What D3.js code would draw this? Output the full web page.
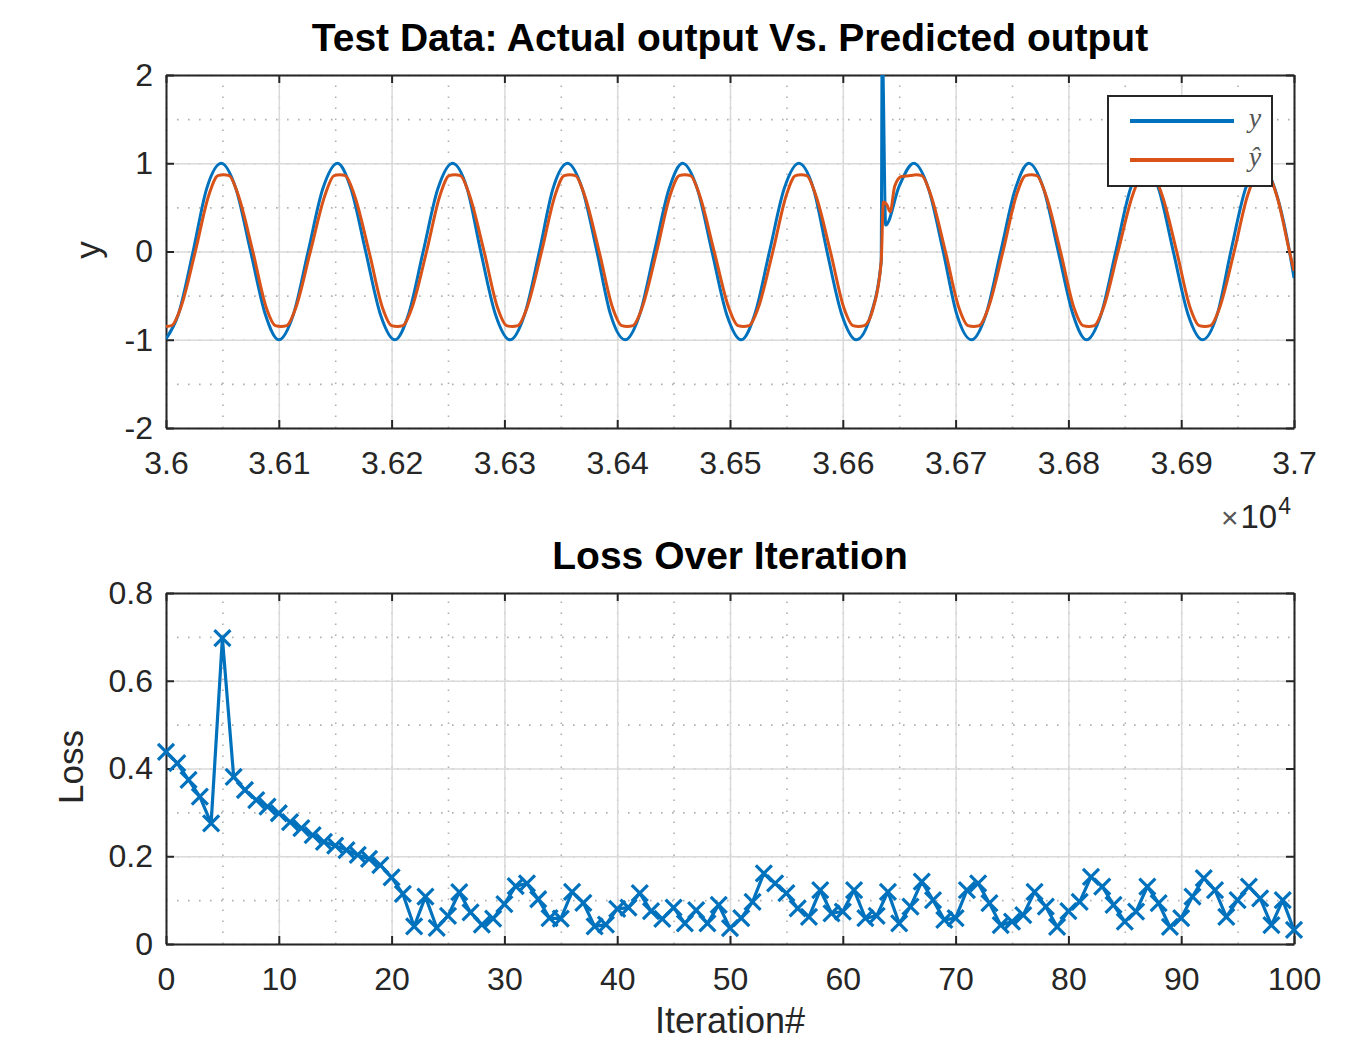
<!DOCTYPE html>
<html>
<head>
<meta charset="utf-8">
<script src="https://cdn.jsdelivr.net/npm/d3@7"></script>
<style>
  body { margin: 0; background: #fff; }
  svg { font-family: "Liberation Sans", Arial, Helvetica, sans-serif; }
  .tick text { fill: #262626; }
</style>
</head>
<body>
<div id="chart"></div>
<script>
// Test data, actual output y (sample index, value)
var actualT = [36000, 36011, 36024, 36036, 36049, 36062, 36075, 36088, 36100, 36113, 36126, 36139, 36152, 36164, 36177, 36190,
  36203, 36215, 36228, 36241, 36254, 36267, 36279, 36292, 36305, 36318, 36331, 36343, 36356, 36369, 36382, 36394,
  36407, 36420, 36433, 36446, 36458, 36471, 36484, 36497, 36510, 36522, 36535, 36548, 36561, 36574, 36586, 36599,
  36612, 36625, 36634, 36635, 36636, 36638, 36650, 36663, 36676, 36689, 36701, 36714, 36727, 36740, 36753, 36765,
  36778, 36791, 36804, 36816, 36829, 36842, 36855, 36868, 36880, 36893, 36906, 36919, 36932, 36944, 36957, 36970,
  36983, 36996, 37000];
var actualY = [-0.99, -0.71, 0, 0.71, 1, 0.71, 0, -0.71, -1, -0.71, 0, 0.71, 1, 0.71, 0, -0.71,
  -1, -0.71, 0, 0.71, 1, 0.71, 0, -0.71, -1, -0.71, 0, 0.71, 1, 0.71, 0, -0.71,
  -1, -0.71, 0, 0.71, 1, 0.71, 0, -0.71, -1, -0.71, 0, 0.71, 1, 0.71, 0, -0.71,
  -1, -0.71, -0.12, 2.6, 1.8, 0.3, 0.74, 1, 0.71, 0, -0.71, -1, -0.71, 0, 0.71, 1,
  0.71, 0, -0.71, -1, -0.71, 0, 0.71, 1, 0.71, 0, -0.71, -1, -0.71, 0, 0.71, 1,
  0.71, 0, -0.3];

// predicted output y-hat
var predT = [36000, 36005, 36013, 36026, 36038, 36046, 36051, 36056, 36064, 36077, 36089, 36097,
  36102, 36107, 36115, 36128, 36141, 36149, 36154, 36159, 36167, 36180, 36192, 36200,
  36205, 36210, 36218, 36231, 36243, 36251, 36256, 36261, 36269, 36282, 36294, 36302,
  36307, 36312, 36320, 36333, 36345, 36353, 36358, 36363, 36371, 36384, 36396, 36404,
  36409, 36414, 36422, 36435, 36447, 36455, 36460, 36465, 36473, 36486, 36499, 36507,
  36512, 36517, 36525, 36538, 36550, 36558, 36563, 36568, 36576, 36589, 36601, 36609,
  36614, 36619, 36627, 36634, 36636, 36639, 36642, 36646, 36652, 36660, 36665, 36670, 36678, 36691, 36703, 36711,
  36716, 36721, 36729, 36742, 36754, 36762, 36767, 36772, 36780, 36793, 36805, 36813,
  36818, 36823, 36831, 36844, 36857, 36865, 36870, 36875, 36883, 36896, 36908, 36916,
  36921, 36926, 36934, 36947, 36959, 36967, 36972, 36977, 36985, 36996, 37000];
var predY = [-0.85, -0.84, -0.64, 0, 0.64, 0.86, 0.87, 0.86, 0.64, 0, -0.64, -0.84,
  -0.85, -0.84, -0.64, 0, 0.64, 0.86, 0.87, 0.86, 0.64, 0, -0.64, -0.84,
  -0.85, -0.84, -0.64, 0, 0.64, 0.86, 0.87, 0.86, 0.64, 0, -0.64, -0.84,
  -0.85, -0.84, -0.64, 0, 0.64, 0.86, 0.87, 0.86, 0.64, 0, -0.64, -0.84,
  -0.85, -0.84, -0.64, 0, 0.64, 0.86, 0.87, 0.86, 0.64, 0, -0.64, -0.84,
  -0.85, -0.84, -0.64, 0, 0.64, 0.86, 0.87, 0.86, 0.64, 0, -0.64, -0.84,
  -0.85, -0.84, -0.64, -0.12, 0.56, 0.53, 0.45, 0.74, 0.85, 0.86, 0.87, 0.86, 0.64, 0, -0.64, -0.84,
  -0.85, -0.84, -0.64, 0, 0.64, 0.86, 0.87, 0.86, 0.64, 0, -0.64, -0.84,
  -0.85, -0.84, -0.64, 0, 0.64, 0.86, 0.87, 0.86, 0.64, 0, -0.64, -0.84,
  -0.85, -0.84, -0.64, 0, 0.64, 0.86, 0.87, 0.86, 0.62, 0, -0.22];

// loss per iteration (0..100)
var lossValues = [0.438, 0.412, 0.374, 0.336, 0.275, 0.697, 0.381, 0.351, 0.328, 0.313,
  0.298, 0.278, 0.264, 0.248, 0.233, 0.224, 0.214, 0.203, 0.194, 0.180,
  0.152, 0.114, 0.040, 0.108, 0.037, 0.064, 0.118, 0.072, 0.044, 0.058,
  0.091, 0.132, 0.138, 0.102, 0.059, 0.058, 0.119, 0.094, 0.040, 0.044,
  0.080, 0.083, 0.116, 0.075, 0.057, 0.083, 0.047, 0.077, 0.047, 0.089,
  0.036, 0.059, 0.096, 0.161, 0.138, 0.116, 0.081, 0.062, 0.123, 0.070,
  0.074, 0.123, 0.059, 0.064, 0.119, 0.047, 0.085, 0.142, 0.100, 0.055,
  0.059, 0.123, 0.138, 0.093, 0.043, 0.051, 0.066, 0.119, 0.085, 0.039,
  0.075, 0.096, 0.153, 0.131, 0.089, 0.051, 0.074, 0.131, 0.093, 0.039,
  0.059, 0.108, 0.150, 0.123, 0.062, 0.100, 0.131, 0.104, 0.043, 0.100,
  0.032];

var topXTicks = [3.6, 3.61, 3.62, 3.63, 3.64, 3.65, 3.66, 3.67, 3.68, 3.69, 3.7];
var topYTicks = [-2, -1, 0, 1, 2];
var lossXTicks = [0, 10, 20, 30, 40, 50, 60, 70, 80, 90, 100];
var lossYTicks = [0, 0.2, 0.4, 0.6, 0.8];

var blue = "#0072BD";
var orange = "#D95319";
var axisColor = "#262626";

var svgWidth = 1355;
var svgHeight = 1041;
var left = 166, right = 1294;

var svg = d3.select("#chart")
  .append("svg")
  .attr("width", svgWidth)
  .attr("height", svgHeight);

// draws grid, box, ticks of one axes and returns the group
function makeAxes(x, y, xTicks, yTicks, xMinor, yMinor, xFormat, yFormat) {
  var top = y.range()[1], bottom = y.range()[0];
  var h = bottom - top, w = right - left;
  var g = svg.append("g");

  // minor grid (dotted)
  g.append("g")
    .attr("transform", `translate(0,${bottom})`)
    .call(d3.axisBottom(x).tickValues(xMinor).tickSize(-h).tickFormat(""))
    .call(s => s.select(".domain").remove())
    .selectAll("line").attr("stroke", "#b0b0b0").attr("stroke-width", 1.6).attr("stroke-dasharray", "1.6,9.4");
  g.append("g")
    .attr("transform", `translate(${left},0)`)
    .call(d3.axisLeft(y).tickValues(yMinor).tickSize(-w).tickFormat(""))
    .call(s => s.select(".domain").remove())
    .selectAll("line").attr("stroke", "#b0b0b0").attr("stroke-width", 1.6).attr("stroke-dasharray", "1.6,9.4");

  // major grid
  g.append("g")
    .attr("transform", `translate(0,${bottom})`)
    .call(d3.axisBottom(x).tickValues(xTicks).tickSize(-h).tickFormat(""))
    .call(s => s.select(".domain").remove())
    .selectAll("line").attr("stroke", "#dadada").attr("stroke-width", 1.5);
  g.append("g")
    .attr("transform", `translate(${left},0)`)
    .call(d3.axisLeft(y).tickValues(yTicks).tickSize(-w).tickFormat(""))
    .call(s => s.select(".domain").remove())
    .selectAll("line").attr("stroke", "#dadada").attr("stroke-width", 1.5);

  // axes with inward ticks, all four sides
  var xb = g.append("g").attr("class", "xaxis")
    .attr("transform", `translate(0,${bottom})`)
    .call(d3.axisBottom(x).tickValues(xTicks).tickSize(-8).tickSizeOuter(0).tickPadding(23).tickFormat(xFormat));
  var xt = g.append("g")
    .attr("transform", `translate(0,${top})`)
    .call(d3.axisTop(x).tickValues(xTicks).tickSize(-8).tickSizeOuter(0).tickFormat(""));
  var yl = g.append("g")
    .attr("transform", `translate(${left},0)`)
    .call(d3.axisLeft(y).tickValues(yTicks).tickSize(-8).tickSizeOuter(0).tickPadding(13).tickFormat(yFormat));
  var yr = g.append("g")
    .attr("transform", `translate(${right},0)`)
    .call(d3.axisRight(y).tickValues(yTicks).tickSize(-8).tickSizeOuter(0).tickFormat(""));

  [xb, xt, yl, yr].forEach(function (a) {
    a.select(".domain").attr("stroke", axisColor).attr("stroke-width", 2);
    a.selectAll(".tick line").attr("stroke", axisColor).attr("stroke-width", 2);
    a.selectAll(".tick text").attr("font-size", 32).attr("font-family", "Liberation Sans, Arial, sans-serif");
  });
  return g;
}

// ---------- top: actual vs predicted ----------
var xTop = d3.scaleLinear().domain([36000, 37000]).range([left, right]);
var yTop = d3.scaleLinear().domain([-2, 2]).range([428, 75]);

makeAxes(xTop, yTop,
  topXTicks.map(d => d * 1e4), topYTicks,
  d3.range(36000, 37001, 50), d3.range(-2, 2.01, 0.5),
  d => d3.format("")(+(d / 1e4).toFixed(2)), d => d < 0 ? "-" + Math.abs(d) : d);

svg.append("clipPath").attr("id", "clipTop")
  .append("rect").attr("x", left).attr("y", 75).attr("width", right - left).attr("height", 428 - 75);

var lineTop = d3.line()
  .x(d => xTop(d[0]))
  .y(d => yTop(d[1]))
  .curve(d3.curveMonotoneX);

var topPlot = svg.append("g").attr("clip-path", "url(#clipTop)");
topPlot.append("path")
  .datum(actualT.map((t, i) => [t, actualY[i]]))
  .attr("d", lineTop)
  .attr("fill", "none").attr("stroke", blue).attr("stroke-width", 3);
topPlot.append("path")
  .datum(predT.map((t, i) => [t, predY[i]]))
  .attr("d", lineTop)
  .attr("fill", "none").attr("stroke", orange).attr("stroke-width", 3);

// exponent label
var expo = svg.append("text")
  .attr("x", 1291).attr("y", 528)
  .attr("text-anchor", "end")
  .attr("fill", axisColor)
  .attr("font-size", 33);
expo.append("tspan").text("\u00d7").attr("font-size", 30).attr("fill", "#555");
expo.append("tspan").text("10").attr("dx", 2);
expo.append("tspan").text("4").attr("font-size", 23).attr("dy", -14).attr("dx", 1);

svg.append("text")
  .attr("transform", "translate(100,250) rotate(-90)")
  .attr("text-anchor", "middle")
  .attr("fill", axisColor)
  .attr("font-size", 35)
  .text("y");

svg.append("text")
  .attr("x", 730).attr("y", 51)
  .attr("text-anchor", "middle")
  .attr("font-weight", "bold")
  .attr("font-size", 39)
  .attr("fill", "#000")
  .text("Test Data: Actual output Vs. Predicted output");

// legend
var legend = svg.append("g").attr("transform", "translate(1108,96)");
legend.append("rect")
  .attr("width", 164).attr("height", 90)
  .attr("fill", "#fff").attr("stroke", "#262626").attr("stroke-width", 2);
var legendItems = [{ label: "y", color: blue, y: 25 }, { label: "\u0177", color: orange, y: 64 }];
legendItems.forEach(function (d) {
  legend.append("line")
    .attr("x1", 22).attr("x2", 126).attr("y1", d.y).attr("y2", d.y)
    .attr("stroke", d.color).attr("stroke-width", 4);
  legend.append("text")
    .attr("x", 147).attr("y", d.y + 6)
    .attr("text-anchor", "middle")
    .attr("font-family", "Liberation Serif, DejaVu Serif, serif")
    .attr("font-style", "italic")
    .attr("font-size", 28)
    .attr("fill", "#555")
    .text(d.label);
});

// ---------- bottom: loss over iteration ----------
var xLoss = d3.scaleLinear().domain([0, 100]).range([left, right]);
var yLoss = d3.scaleLinear().domain([0, 0.8]).range([944, 593]);

makeAxes(xLoss, yLoss,
  lossXTicks, lossYTicks,
  d3.range(0, 101, 5), d3.range(0, 0.81, 0.1),
  d => d, d => d === 0 ? "0" : d3.format(".1f")(d));

var lossData = lossValues.map((v, i) => [i, v]);

svg.append("path")
  .datum(lossData)
  .attr("d", d3.line().x(d => xLoss(d[0])).y(d => yLoss(d[1])))
  .attr("fill", "none").attr("stroke", blue).attr("stroke-width", 3.2).attr("stroke-linejoin", "round");

var m = 8;
svg.append("g").selectAll("path")
  .data(lossData)
  .enter()
  .append("path")
  .attr("transform", d => `translate(${xLoss(d[0])},${yLoss(d[1])})`)
  .attr("d", `M${-m},${-m}L${m},${m}M${-m},${m}L${m},${-m}`)
  .attr("stroke", blue).attr("stroke-width", 3.2).attr("fill", "none");

svg.append("text")
  .attr("transform", "translate(83,767) rotate(-90)")
  .attr("text-anchor", "middle")
  .attr("fill", axisColor)
  .attr("font-size", 35)
  .text("Loss");

svg.append("text")
  .attr("x", 730).attr("y", 1033)
  .attr("text-anchor", "middle")
  .attr("fill", axisColor)
  .attr("font-size", 36)
  .text("Iteration#");

svg.append("text")
  .attr("x", 730).attr("y", 569)
  .attr("text-anchor", "middle")
  .attr("font-weight", "bold")
  .attr("font-size", 39)
  .attr("fill", "#000")
  .text("Loss Over Iteration");
</script>
</body>
</html>
